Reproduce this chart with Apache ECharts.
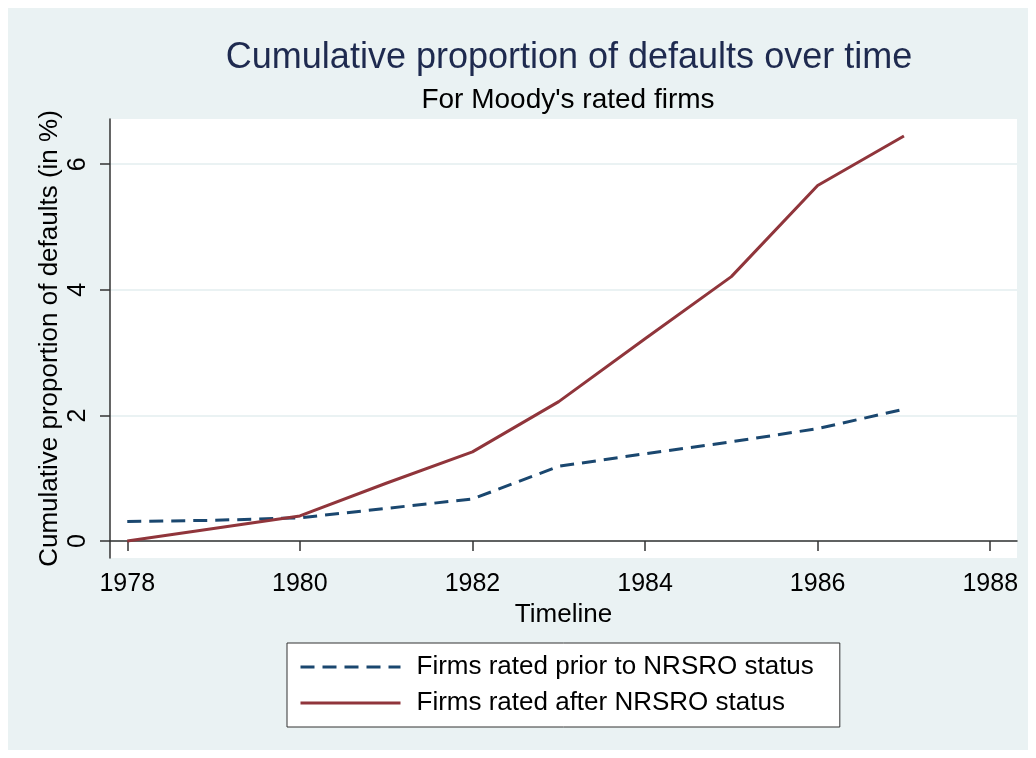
<!DOCTYPE html>
<html>
<head>
<meta charset="utf-8">
<script src="https://cdn.jsdelivr.net/npm/echarts@6/dist/echarts.min.js"></script>
<style>
  html, body { margin: 0; padding: 0; background: #fff; }
  #main {
    position: absolute;
    left: 8px;
    top: 8px;
    width: 1020px;
    height: 742px;
    background: #eaf2f3;
  }
</style>
</head>
<body>
<div id="main"></div>
<script>
// years on the timeline
const years = [1978, 1979, 1980, 1981, 1982, 1983, 1984, 1985, 1986, 1987]
// cumulative default proportion (in %)
const priorNRSRO = [0.31, 0.33, 0.37, 0.52, 0.67, 1.19, 1.39, 1.58, 1.79, 2.10]
const afterNRSRO = [0.00, 0.20, 0.40, 0.92, 1.42, 2.22, 3.22, 4.21, 5.66, 6.45]
// tick labels
const xTicks = [1978, 1980, 1982, 1984, 1986, 1988]
const yTicks = [0, 2, 4, 6]

const seriesNames = ['Firms rated prior to NRSRO status', 'Firms rated after NRSRO status']

const pairs = (xs, ys) => xs.map((x, i) => [x, ys[i]])

const font = 'Liberation Sans, Arial, sans-serif'
const chart = echarts.init(document.getElementById('main'))

chart.setOption({
  animation: false,
  textStyle: { fontFamily: font },
  // titles are centred over the plot region, not the whole canvas
  title: [
    {
      text: 'Cumulative proportion of defaults over time',
      left: 556,
      textAlign: 'center',
      top: 27,
      textStyle: { fontSize: 36, fontWeight: 'normal', color: '#1e2a4f', fontFamily: font }
    },
    {
      text: "For Moody's rated firms",
      left: 555,
      textAlign: 'center',
      top: 73,
      textStyle: { fontSize: 28, fontWeight: 'normal', color: '#000', fontFamily: font }
    }
  ],
  legend: {
    orient: 'vertical',
    left: 279,
    top: 635,
    data: seriesNames,
    itemWidth: 100,
    itemHeight: 14,
    itemGap: 10,
    padding: [11, 26, 11, 12],
    backgroundColor: '#fff',
    borderColor: '#333',
    borderWidth: 1,
    borderRadius: 0,
    itemStyle: { opacity: 0 },
    lineStyle: { width: 3 },
    textStyle: { fontSize: 26, color: '#000', fontFamily: font, padding: [0, 0, 0, 11] }
  },
  grid: {
    left: 102,
    top: 111,
    right: 11,
    bottom: 192,
    show: true,
    backgroundColor: '#fff',
    borderWidth: 0
  },
  xAxis: {
    type: 'value',
    min: 1977.8,
    max: 1988.31,
    name: 'Timeline',
    nameLocation: 'middle',
    nameGap: 40,
    nameTextStyle: { fontSize: 26, color: '#000' },
    axisLine: { show: true, lineStyle: { color: '#333', width: 1.5 } },
    axisTick: { show: true, length: 10, customValues: xTicks, lineStyle: { color: '#333', width: 1.5 } },
    axisLabel: { customValues: xTicks, fontSize: 25, color: '#000', margin: 14, formatter: v => String(v) },
    splitLine: { show: false }
  },
  yAxis: {
    type: 'value',
    min: -0.27,
    max: 6.72,
    name: 'Cumulative proportion of defaults (in %)',
    nameLocation: 'middle',
    nameGap: 47,
    nameMoveOverlap: false,
    nameTextStyle: { fontSize: 26, color: '#000' },
    axisLine: { show: true, lineStyle: { color: '#333', width: 1.5 } },
    axisTick: { show: true, length: 10, customValues: yTicks, lineStyle: { color: '#333', width: 1.5 } },
    axisLabel: { customValues: yTicks, fontSize: 25, color: '#000', rotate: 90, margin: 19 },
    splitLine: { show: true, lineStyle: { color: '#eaf2f3', width: 2 } }
  },
  series: [
    {
      name: seriesNames[0],
      type: 'line',
      data: pairs(years, priorNRSRO),
      showSymbol: false,
      symbol: 'none',
      color: '#1a476f',
      lineStyle: { color: '#1a476f', width: 3, type: [14, 8] }
    },
    {
      name: seriesNames[1],
      type: 'line',
      data: pairs(years, afterNRSRO),
      showSymbol: false,
      symbol: 'none',
      color: '#90353b',
      lineStyle: { color: '#90353b', width: 3 }
    }
  ]
})
</script>
</body>
</html>
